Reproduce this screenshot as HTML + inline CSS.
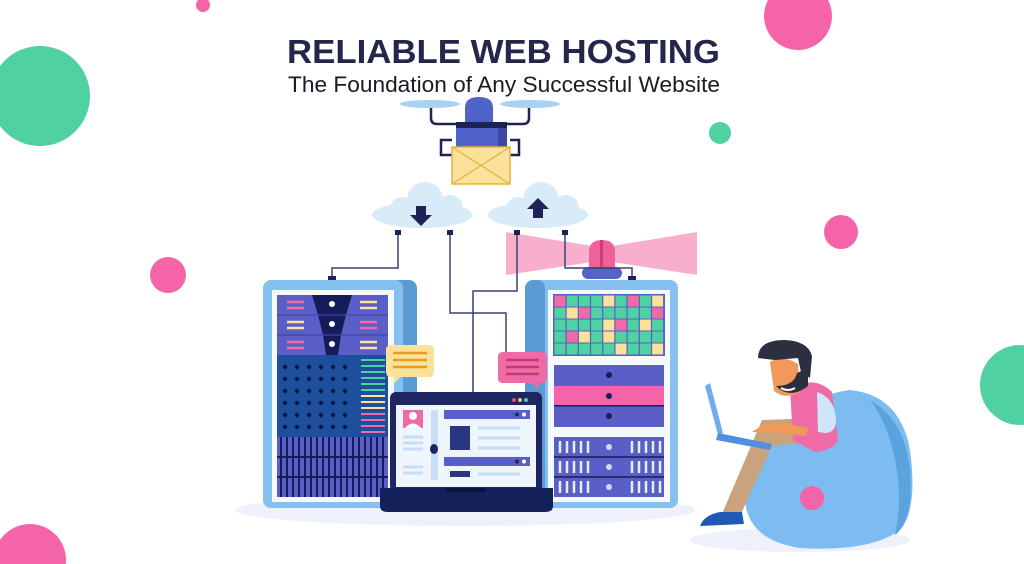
<!DOCTYPE html>
<html><head><meta charset="utf-8"><style>
html,body{margin:0;padding:0;background:#fff;width:1024px;height:564px;overflow:hidden}
svg{display:block}
</style></head><body>
<svg width="1024" height="564" viewBox="0 0 1024 564" xmlns="http://www.w3.org/2000/svg">
<rect width="1024" height="564" fill="#fff"/>
<circle cx="203" cy="5" r="7" fill="#f564a9"/>
<circle cx="40" cy="96" r="50" fill="#4fd1a1"/>
<circle cx="798" cy="16" r="34" fill="#f564a9"/>
<circle cx="720" cy="133" r="11" fill="#4fd1a1"/>
<circle cx="841" cy="232" r="17" fill="#f564a9"/>
<circle cx="168" cy="275" r="18" fill="#f564a9"/>
<circle cx="1020" cy="385" r="40" fill="#4fd1a1"/>
<circle cx="30" cy="560" r="36" fill="#f564a9"/>

<text x="287" y="63" font-family="Liberation Sans, sans-serif" font-weight="bold" font-size="33" fill="#23284a" textLength="433" lengthAdjust="spacingAndGlyphs">RELIABLE WEB HOSTING</text>
<text x="288" y="92" font-family="Liberation Sans, sans-serif" font-size="22" fill="#1a1a22" textLength="432" lengthAdjust="spacingAndGlyphs">The Foundation of Any Successful Website</text>

<ellipse cx="430" cy="104" rx="30" ry="4" fill="#a9d2f0"/>
<ellipse cx="530" cy="104" rx="30" ry="4" fill="#a9d2f0"/>
<path d="M431 108 V118 Q431 124 437 124 H456 M529 108 V118 Q529 124 523 124 H507" stroke="#1d2455" stroke-width="2.5" fill="none"/>
<path d="M452 140 H441 V155 H452 M510 140 H519 V155 H510" stroke="#1d2455" stroke-width="2.5" fill="none"/>
<path d="M465 122 V108 Q465 97 479 97 Q493 97 493 108 V122 Z" fill="#4f63c9"/>
<rect x="456" y="122" width="51" height="26" fill="#4f63c9"/>
<rect x="498" y="122" width="9" height="26" fill="#3b4aa0"/>
<rect x="456" y="122" width="51" height="6" fill="#1d2455"/>
<rect x="452" y="147" width="58" height="37" fill="#fbe19a" stroke="#e3b33e" stroke-width="1.5"/>
<path d="M452 147 L510 184 M510 147 L452 184" stroke="#e3b33e" stroke-width="1.3"/>

<g fill="#d8ebf8">
<ellipse cx="422" cy="215" rx="50" ry="13"/>
<circle cx="425" cy="200" r="18"/><circle cx="402" cy="209" r="12"/><circle cx="450" cy="208" r="13"/>
<ellipse cx="538" cy="215" rx="50" ry="13"/>
<circle cx="541" cy="200" r="18"/><circle cx="518" cy="209" r="12"/><circle cx="566" cy="208" r="13"/>
</g>
<path d="M416 206 h10 v9 h6 l-11 11 l-11 -11 h6z" fill="#1d2455"/>
<path d="M533 218 h10 v-9 h6 l-11 -11 l-11 11 h6z" fill="#1d2455"/>

<path d="M506 232 L592 246 L592 262 L506 275 Z" fill="#f7a6c8" opacity="0.9"/>
<path d="M697 232 L612 246 L612 262 L697 275 Z" fill="#f7a6c8" opacity="0.9"/>
<path d="M589 270 V252 Q589 240 602 240 Q615 240 615 252 V270 Z" fill="#f0609a"/>
<rect x="600" y="240" width="3" height="30" fill="#c9407a"/>
<rect x="582" y="267" width="40" height="12" rx="6" fill="#5563c9"/>

<g stroke="#3a4270" stroke-width="1.5" fill="none">
<path d="M398 233 V268 H332 V278"/>
<path d="M450 233 V313 H506 V352"/>
<path d="M517 233 V291 H473 V392"/>
<path d="M565 233 V268 H632 V278"/>
</g>
<g fill="#1d2455">
<rect x="395" y="230" width="6" height="5"/><rect x="447" y="230" width="6" height="5"/>
<rect x="514" y="230" width="6" height="5"/><rect x="562" y="230" width="6" height="5"/>
<rect x="328" y="276" width="8" height="5"/><rect x="628" y="276" width="8" height="5"/>
</g>

<ellipse cx="465" cy="510" rx="230" ry="16" fill="#eef0fb"/>
<ellipse cx="800" cy="540" rx="110" ry="12" fill="#eef0fb"/>

<rect x="270" y="280" width="147" height="228" rx="8" fill="#5a9bd4"/>
<rect x="263" y="280" width="140" height="228" rx="8" fill="#86c0ee"/>
<rect x="272" y="290" width="122" height="212" fill="#f6f9fe"/>
<rect x="277" y="295" width="111" height="60" fill="#5a5fc7"/>
<g fill="#141c5a">
<path d="M312 295 H352 L346 315 H318Z"/><path d="M318 315 H346 L341 335 H323Z"/><path d="M323 335 H341 L338 355 H326Z"/>
</g>
<path d="M277 315 H388 M277 335 H388" stroke="#3e43a8" stroke-width="1.2"/>
<g fill="#fff"><circle cx="332" cy="304" r="3"/><circle cx="332" cy="324" r="3"/><circle cx="332" cy="344" r="3"/></g>
<g stroke-width="2.5">
<path d="M287 302h17M287 308h17" stroke="#f06aa5"/>
<path d="M287 322h17M287 328h17" stroke="#fbe19a"/>
<path d="M287 342h17M287 348h17" stroke="#f06aa5"/>
<path d="M360 302h17M360 308h17" stroke="#fbe19a"/>
<path d="M360 322h17M360 328h17" stroke="#f06aa5"/>
<path d="M360 342h17M360 348h17" stroke="#fbe19a"/>
</g>
<rect x="277" y="355" width="111" height="82" fill="#1e4f9c"/>
<g fill="#0c1a4a">
<circle cx="285" cy="367" r="2.2"/><circle cx="297" cy="367" r="2.2"/><circle cx="309" cy="367" r="2.2"/><circle cx="321" cy="367" r="2.2"/><circle cx="333" cy="367" r="2.2"/><circle cx="345" cy="367" r="2.2"/>
<circle cx="285" cy="379" r="2.2"/><circle cx="297" cy="379" r="2.2"/><circle cx="309" cy="379" r="2.2"/><circle cx="321" cy="379" r="2.2"/><circle cx="333" cy="379" r="2.2"/><circle cx="345" cy="379" r="2.2"/>
<circle cx="285" cy="391" r="2.2"/><circle cx="297" cy="391" r="2.2"/><circle cx="309" cy="391" r="2.2"/><circle cx="321" cy="391" r="2.2"/><circle cx="333" cy="391" r="2.2"/><circle cx="345" cy="391" r="2.2"/>
<circle cx="285" cy="403" r="2.2"/><circle cx="297" cy="403" r="2.2"/><circle cx="309" cy="403" r="2.2"/><circle cx="321" cy="403" r="2.2"/><circle cx="333" cy="403" r="2.2"/><circle cx="345" cy="403" r="2.2"/>
<circle cx="285" cy="415" r="2.2"/><circle cx="297" cy="415" r="2.2"/><circle cx="309" cy="415" r="2.2"/><circle cx="321" cy="415" r="2.2"/><circle cx="333" cy="415" r="2.2"/><circle cx="345" cy="415" r="2.2"/>
<circle cx="285" cy="427" r="2.2"/><circle cx="297" cy="427" r="2.2"/><circle cx="309" cy="427" r="2.2"/><circle cx="321" cy="427" r="2.2"/><circle cx="333" cy="427" r="2.2"/><circle cx="345" cy="427" r="2.2"/>
</g>
<g stroke-width="2">
<path d="M361 360h24M361 366h24M361 372h24" stroke="#4fd1a1"/>
<path d="M361 378h24M361 384h24M361 390h24" stroke="#4fd1a1"/>
<path d="M361 396h24M361 402h24M361 408h24" stroke="#fbe19a"/>
<path d="M361 414h24M361 420h24M361 426h24M361 432h24" stroke="#f06aa5"/>
</g>
<rect x="277" y="437" width="111" height="60" fill="#5a5fc7"/>
<g stroke="#141c5a" stroke-width="2">
<path d="M281 437V497M287 437V497M293 437V497M299 437V497M305 437V497M311 437V497M317 437V497M323 437V497M329 437V497M335 437V497M341 437V497M347 437V497M353 437V497M359 437V497M365 437V497M371 437V497M377 437V497M383 437V497"/>
<path d="M277 457H388M277 477H388"/>
</g>

<rect x="532" y="280" width="146" height="228" rx="8" fill="#86c0ee"/>
<rect x="525" y="280" width="20" height="228" rx="8" fill="#5a9bd4"/>
<rect x="548" y="290" width="122" height="212" fill="#f6f9fe"/>
<rect x="553" y="294" width="112" height="62" fill="#5a5fc7"/>
<g>
<rect x="554.5" y="295.5" width="11" height="11" fill="#f06aa5"/><rect x="566.7" y="295.5" width="11" height="11" fill="#4fd1a1"/><rect x="578.9" y="295.5" width="11" height="11" fill="#4fd1a1"/><rect x="591.1" y="295.5" width="11" height="11" fill="#4fd1a1"/><rect x="603.3" y="295.5" width="11" height="11" fill="#fbe19a"/><rect x="615.5" y="295.5" width="11" height="11" fill="#4fd1a1"/><rect x="627.7" y="295.5" width="11" height="11" fill="#f06aa5"/><rect x="639.9" y="295.5" width="11" height="11" fill="#4fd1a1"/><rect x="652.1" y="295.5" width="11" height="11" fill="#fbe19a"/>
<rect x="554.5" y="307.5" width="11" height="11" fill="#4fd1a1"/><rect x="566.7" y="307.5" width="11" height="11" fill="#fbe19a"/><rect x="578.9" y="307.5" width="11" height="11" fill="#f06aa5"/><rect x="591.1" y="307.5" width="11" height="11" fill="#4fd1a1"/><rect x="603.3" y="307.5" width="11" height="11" fill="#4fd1a1"/><rect x="615.5" y="307.5" width="11" height="11" fill="#4fd1a1"/><rect x="627.7" y="307.5" width="11" height="11" fill="#4fd1a1"/><rect x="639.9" y="307.5" width="11" height="11" fill="#4fd1a1"/><rect x="652.1" y="307.5" width="11" height="11" fill="#f06aa5"/>
<rect x="554.5" y="319.5" width="11" height="11" fill="#4fd1a1"/><rect x="566.7" y="319.5" width="11" height="11" fill="#4fd1a1"/><rect x="578.9" y="319.5" width="11" height="11" fill="#4fd1a1"/><rect x="591.1" y="319.5" width="11" height="11" fill="#4fd1a1"/><rect x="603.3" y="319.5" width="11" height="11" fill="#fbe19a"/><rect x="615.5" y="319.5" width="11" height="11" fill="#f06aa5"/><rect x="627.7" y="319.5" width="11" height="11" fill="#4fd1a1"/><rect x="639.9" y="319.5" width="11" height="11" fill="#fbe19a"/><rect x="652.1" y="319.5" width="11" height="11" fill="#4fd1a1"/>
<rect x="554.5" y="331.5" width="11" height="11" fill="#4fd1a1"/><rect x="566.7" y="331.5" width="11" height="11" fill="#f06aa5"/><rect x="578.9" y="331.5" width="11" height="11" fill="#fbe19a"/><rect x="591.1" y="331.5" width="11" height="11" fill="#4fd1a1"/><rect x="603.3" y="331.5" width="11" height="11" fill="#fbe19a"/><rect x="615.5" y="331.5" width="11" height="11" fill="#4fd1a1"/><rect x="627.7" y="331.5" width="11" height="11" fill="#4fd1a1"/><rect x="639.9" y="331.5" width="11" height="11" fill="#4fd1a1"/><rect x="652.1" y="331.5" width="11" height="11" fill="#4fd1a1"/>
<rect x="554.5" y="343.5" width="11" height="11" fill="#4fd1a1"/><rect x="566.7" y="343.5" width="11" height="11" fill="#4fd1a1"/><rect x="578.9" y="343.5" width="11" height="11" fill="#4fd1a1"/><rect x="591.1" y="343.5" width="11" height="11" fill="#4fd1a1"/><rect x="603.3" y="343.5" width="11" height="11" fill="#4fd1a1"/><rect x="615.5" y="343.5" width="11" height="11" fill="#fbe19a"/><rect x="627.7" y="343.5" width="11" height="11" fill="#4fd1a1"/><rect x="639.9" y="343.5" width="11" height="11" fill="#4fd1a1"/><rect x="652.1" y="343.5" width="11" height="11" fill="#fbe19a"/>
</g>
<rect x="554" y="365" width="110" height="21" fill="#5a5fc7"/>
<rect x="554" y="386" width="110" height="20" fill="#f564a9"/>
<rect x="554" y="406" width="110" height="21" fill="#5a5fc7"/>
<rect x="554" y="405" width="110" height="1.5" fill="#141c5a"/>
<g fill="#141c5a"><circle cx="609" cy="375" r="3"/><circle cx="609" cy="396" r="3"/><circle cx="609" cy="416" r="3"/></g>
<rect x="554" y="437" width="110" height="60" fill="#5a5fc7"/>
<path d="M554 457H664M554 477H664" stroke="#141c5a" stroke-width="1.5"/>
<g stroke="#e8edfb" stroke-width="2.5">
<path d="M560 441v12M567 441v12M574 441v12M581 441v12M588 441v12M632 441v12M639 441v12M646 441v12M653 441v12M660 441v12"/>
<path d="M560 461v12M567 461v12M574 461v12M581 461v12M588 461v12M632 461v12M639 461v12M646 461v12M653 461v12M660 461v12"/>
<path d="M560 481v12M567 481v12M574 481v12M581 481v12M588 481v12M632 481v12M639 481v12M646 481v12M653 481v12M660 481v12"/>
</g>
<g fill="#c7ddf5"><circle cx="609" cy="447" r="3"/><circle cx="609" cy="467" r="3"/><circle cx="609" cy="487" r="3"/></g>

<path d="M391 345 H429 Q434 345 434 350 V372 Q434 377 429 377 H400 L393 385 L394 377 H391 Q386 377 386 372 V350 Q386 345 391 345Z" fill="#fbe19a"/>
<path d="M393 353h34M393 360h34M393 367h34" stroke="#e3a021" stroke-width="2.5"/>
<path d="M503 352 H542 Q547 352 547 357 V378 Q547 383 542 383 H538 L539 390 L532 383 H503 Q498 383 498 378 V357 Q498 352 503 352Z" fill="#f06aa5"/>
<path d="M506 360h33M506 367h33M506 374h33" stroke="#c03a78" stroke-width="2.5"/>

<rect x="390" y="392" width="152" height="100" rx="6" fill="#1d2663"/>
<rect x="396" y="405" width="140" height="82" fill="#eef5fd"/>
<circle cx="514" cy="400" r="2" fill="#e94f6e"/><circle cx="520" cy="400" r="2" fill="#f3c73e"/><circle cx="526" cy="400" r="2" fill="#4fc7c7"/>
<rect x="403" y="410" width="20" height="18" fill="#f06aa5"/>
<circle cx="413" cy="416" r="4" fill="#fff"/><path d="M405 428 Q413 419 421 428Z" fill="#fff"/>
<path d="M403 437h20M403 443h20M403 449h20M403 467h20M403 473h20" stroke="#c7ddf5" stroke-width="3"/>
<rect x="431" y="410" width="7" height="70" fill="#c7ddf5"/>
<ellipse cx="434" cy="449" rx="4" ry="5" fill="#1d2663"/>
<rect x="444" y="410" width="86" height="9" fill="#5a5fc7"/>
<circle cx="517" cy="414.5" r="2" fill="#1d2663"/><circle cx="524" cy="414.5" r="2" fill="#fff"/>
<rect x="450" y="426" width="20" height="24" fill="#28377f"/>
<path d="M478 428h42M478 438h42M478 448h42" stroke="#c7ddf5" stroke-width="3"/>
<rect x="444" y="457" width="86" height="9" fill="#5a5fc7"/>
<circle cx="517" cy="461.5" r="2" fill="#1d2663"/><circle cx="524" cy="461.5" r="2" fill="#fff"/>
<rect x="450" y="471" width="20" height="6" fill="#28377f"/>
<path d="M478 474h42" stroke="#c7ddf5" stroke-width="3"/>
<path d="M380 488 H553 V506 Q553 512 545 512 H388 Q380 512 380 506Z" fill="#14205a"/>
<rect x="446" y="488" width="40" height="4" rx="2" fill="#0b1440"/>

<!-- beanbag + person -->
<path d="M745 500 Q735 450 790 425 Q810 395 850 390 Q900 395 910 450 Q918 510 900 530 Q870 552 800 548 Q748 540 745 500Z" fill="#7cbcf0"/>
<path d="M870 400 Q905 420 910 470 Q914 520 895 535 Q905 490 890 440 Q882 415 870 400Z" fill="#5ba2df"/>
<path d="M762 420 L818 418 Q832 428 818 442 L772 446 L740 516 L722 514 Z" fill="#c9a27e"/>
<path d="M720 512 L742 512 L744 524 L700 526 Q704 515 720 512Z" fill="#1f5ab7"/>
<path d="M790 388 Q815 375 832 392 L838 440 Q834 450 815 452 L793 440 Z" fill="#f06aa5"/>
<path d="M817 392 Q835 398 836 420 Q836 432 826 433 L818 432 Z" fill="#cfe6f9"/>
<path d="M752 432 Q768 420 790 424 L808 428 L806 436 L780 433 Z" fill="#f0995b"/>
<path d="M705 386 L710 383 L723 433 L718 435Z" fill="#6eaef0"/>
<path d="M718 433 L772 444 L770 450 L716 440 Z" fill="#4f8fe0"/>
<path d="M770 362 Q782 354 798 364 L800 392 Q785 400 774 391 Z" fill="#f0995b"/>
<path d="M776 386 Q790 400 808 386 L808 368 L797 373 Q794 386 776 386Z" fill="#2b2f3f"/>
<path d="M781 388 Q788 392 795 388" stroke="#fff" stroke-width="2" fill="none"/>
<path d="M758 358 Q758 340 785 340 Q808 341 812 356 L810 378 L801 372 L798 358 L775 360 Z" fill="#2b2f3f"/>
<circle cx="812" cy="498" r="12" fill="#f564a9"/>
</svg>
</body></html>
